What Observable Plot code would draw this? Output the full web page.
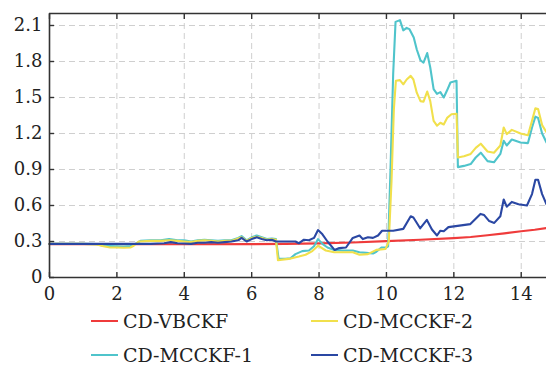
<!DOCTYPE html>
<html>
<head>
<meta charset="utf-8">
<script src="https://cdn.jsdelivr.net/npm/d3@7"></script>
<script src="https://cdn.jsdelivr.net/npm/@observablehq/plot@0.6"></script>
<style>
  body { margin: 0; background: #fff; font-family: "DejaVu Serif", serif; overflow: hidden; }
  #chart { width: 546px; height: 305px; }
  #chart svg { display: block; }
  #legend { display: grid; grid-template-columns: 220px 220px; margin-left: 91px; margin-top: -1px; }
  .item { height: 34px; display: flex; align-items: center; font-size: 19px; color: #222; white-space: nowrap; line-height: 1; }
  .sw { width: 27px; height: 0; border-top: 2.5px solid; margin-right: 5px; }
</style>
</head>
<body>
<div id="chart"></div>
<div id="legend"></div>
<script>
const seriesNames = ["CD-VBCKF", "CD-MCCKF-1", "CD-MCCKF-2", "CD-MCCKF-3"];
const seriesColors = ["#ef3b3b", "#4fc4cb", "#f1e04c", "#2a47a3"];
const legendOrder = ["CD-VBCKF", "CD-MCCKF-2", "CD-MCCKF-1", "CD-MCCKF-3"];
const xTicks = [0, 2, 4, 6, 8, 10, 12, 14];
const yTicks = [0, 0.3, 0.6, 0.9, 1.2, 1.5, 1.8, 2.1];

const vbckf = [[0,0.278],[2,0.278],[4,0.277],[6,0.278],[7,0.28],[8,0.284],[9,0.292],[10,0.303],[11,0.314],[12,0.328],[12.5,0.338],[13,0.352],[13.5,0.368],[14,0.385],[14.4,0.398],[14.75,0.412]];

const mcckf1 = [[0,0.28],[0.5,0.28],[1.0,0.28],[1.4,0.278],[1.6,0.265],[1.8,0.262],[2.0,0.26],[2.2,0.258],[2.4,0.262],[2.55,0.28],[2.7,0.305],[3.0,0.31],[3.3,0.31],[3.55,0.32],[3.8,0.31],[4.0,0.31],[4.2,0.3],[4.4,0.31],[4.6,0.315],[4.8,0.31],[5.0,0.305],[5.2,0.31],[5.4,0.31],[5.6,0.33],[5.7,0.345],[5.85,0.31],[6.0,0.335],[6.15,0.35],[6.3,0.335],[6.45,0.32],[6.6,0.325],[6.72,0.32],[6.8,0.155],[7.0,0.155],[7.15,0.16],[7.3,0.195],[7.5,0.22],[7.7,0.225],[7.85,0.26],[7.97,0.32],[8.1,0.28],[8.25,0.25],[8.45,0.23],[8.7,0.225],[9.0,0.225],[9.2,0.21],[9.4,0.205],[9.6,0.2],[9.7,0.215],[9.85,0.25],[10.0,0.25],[10.05,0.26],[10.12,0.9],[10.2,1.7],[10.27,2.13],[10.4,2.145],[10.5,2.06],[10.6,2.08],[10.68,2.07],[10.81,2.0],[10.9,1.9],[11.01,1.81],[11.1,1.79],[11.21,1.87],[11.3,1.75],[11.4,1.57],[11.5,1.53],[11.6,1.545],[11.7,1.5],[11.8,1.56],[11.9,1.625],[12.08,1.64],[12.12,0.92],[12.3,0.93],[12.5,0.945],[12.65,1.0],[12.8,1.04],[13.0,0.97],[13.19,0.96],[13.38,1.03],[13.48,1.14],[13.57,1.1],[13.72,1.15],[13.98,1.125],[14.2,1.12],[14.32,1.25],[14.42,1.34],[14.5,1.33],[14.62,1.2],[14.75,1.125]];

const mcckf2 = [[0,0.28],[1.0,0.28],[1.4,0.275],[1.6,0.26],[1.8,0.25],[2.0,0.25],[2.2,0.248],[2.4,0.25],[2.5,0.265],[2.65,0.3],[3.0,0.305],[3.3,0.305],[3.55,0.31],[3.8,0.305],[4.0,0.3],[4.2,0.295],[4.4,0.305],[4.6,0.31],[4.8,0.305],[5.0,0.3],[5.2,0.305],[5.4,0.305],[5.6,0.325],[5.7,0.335],[5.85,0.305],[6.0,0.33],[6.15,0.34],[6.3,0.33],[6.45,0.315],[6.6,0.32],[6.72,0.315],[6.78,0.145],[7.1,0.155],[7.4,0.175],[7.6,0.19],[7.8,0.22],[7.97,0.265],[8.2,0.225],[8.45,0.21],[8.7,0.21],[9.0,0.21],[9.2,0.19],[9.45,0.195],[9.7,0.23],[9.97,0.237],[10.07,0.3],[10.15,0.8],[10.22,1.4],[10.28,1.64],[10.4,1.645],[10.5,1.61],[10.6,1.65],[10.72,1.68],[10.8,1.65],[10.9,1.54],[11.01,1.47],[11.1,1.465],[11.21,1.55],[11.3,1.47],[11.4,1.305],[11.5,1.265],[11.6,1.29],[11.7,1.275],[11.8,1.33],[11.93,1.36],[12.08,1.365],[12.12,1.0],[12.3,1.01],[12.5,1.03],[12.65,1.08],[12.8,1.115],[13.0,1.05],[13.19,1.04],[13.38,1.1],[13.48,1.25],[13.57,1.195],[13.72,1.23],[13.98,1.2],[14.2,1.185],[14.32,1.305],[14.42,1.41],[14.5,1.405],[14.62,1.27],[14.75,1.21]];

const mcckf3 = [[0,0.28],[1,0.28],[2,0.28],[3,0.28],[3.4,0.285],[3.6,0.295],[3.8,0.285],[4.0,0.283],[4.2,0.28],[4.4,0.29],[4.6,0.29],[4.8,0.295],[5.0,0.29],[5.2,0.295],[5.4,0.3],[5.6,0.31],[5.7,0.33],[5.85,0.3],[6.0,0.32],[6.15,0.335],[6.3,0.32],[6.45,0.31],[6.6,0.315],[6.72,0.3],[7.0,0.3],[7.3,0.3],[7.4,0.285],[7.55,0.315],[7.7,0.31],[7.85,0.33],[7.97,0.395],[8.1,0.36],[8.25,0.3],[8.46,0.23],[8.6,0.245],[8.8,0.25],[9.0,0.33],[9.2,0.35],[9.3,0.32],[9.45,0.335],[9.6,0.33],[9.75,0.35],[9.87,0.39],[10.2,0.39],[10.5,0.405],[10.72,0.51],[10.8,0.5],[11.0,0.41],[11.2,0.48],[11.35,0.4],[11.5,0.35],[11.6,0.39],[11.7,0.385],[11.84,0.42],[12.49,0.445],[12.79,0.53],[12.9,0.52],[13.05,0.47],[13.2,0.455],[13.38,0.51],[13.48,0.65],[13.57,0.59],[13.72,0.63],[13.92,0.61],[14.17,0.6],[14.32,0.695],[14.42,0.815],[14.5,0.815],[14.62,0.695],[14.75,0.61]];

const seriesData = [vbckf, mcckf1, mcckf2, mcckf3];
const rows = seriesData.flatMap((arr, i) => arr.map(([x, y]) => ({x, y, s: seriesNames[i]})));

const grid = {stroke: "#cfcfcf", strokeOpacity: 1, strokeWidth: 1, strokeDasharray: "6,4"};
const frame = {stroke: "#333", strokeWidth: 1.6};

const chart = Plot.plot({
  width: 546, height: 305,
  marginLeft: 49, marginRight: 0, marginTop: 13, marginBottom: 28,
  style: {fontFamily: "DejaVu Serif", fontSize: "18px", color: "#222", background: "white", overflow: "visible"},
  x: {domain: [0, 14.75]},
  y: {domain: [0, 2.2]},
  color: {domain: seriesNames, range: seriesColors},
  marks: [
    Plot.gridX(xTicks.filter(d => d > 0), grid),
    Plot.gridY(yTicks.filter(d => d > 0), grid),
    Plot.line(rows, {x: "x", y: "y", z: "s", stroke: "s", strokeWidth: 2.1}),
    Plot.ruleX([0], frame),
    Plot.ruleY([0], frame),
    Plot.ruleY([2.2], frame),
    Plot.axisX(xTicks, {anchor: "bottom", tickSize: -5, tickPadding: 15, label: null, stroke: "#333", strokeWidth: 1.4}),
    Plot.axisX(xTicks, {anchor: "top", tickSize: -5, tickFormat: () => "", label: null, stroke: "#333", strokeWidth: 1.4}),
    Plot.axisY(yTicks, {anchor: "left", tickSize: -5, tickPadding: 12, label: null, stroke: "#333", strokeWidth: 1.4, tickFormat: d => d === 0 ? "0" : d.toFixed(1)})
  ]
});
document.getElementById("chart").appendChild(chart);

const legend = document.getElementById("legend");
legendOrder.forEach(name => {
  const i = seriesNames.indexOf(name);
  const it = document.createElement("div");
  it.className = "item";
  const sw = document.createElement("span");
  sw.className = "sw";
  sw.style.borderColor = seriesColors[i];
  const t = document.createElement("span");
  t.textContent = name;
  it.appendChild(sw); it.appendChild(t);
  legend.appendChild(it);
});
</script>
</body>
</html>
